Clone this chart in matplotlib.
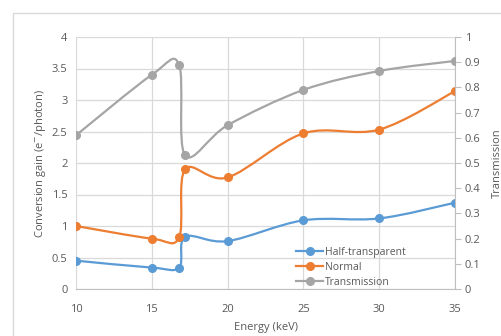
import matplotlib
matplotlib.use("Agg")
import matplotlib.pyplot as plt
from matplotlib.path import Path
from matplotlib.patches import PathPatch, Rectangle
from matplotlib.lines import Line2D
import numpy as np

energy = [10, 15, 16.8, 17.2, 20, 25, 30, 35]
half_transparent = [0.45, 0.34, 0.34, 0.83, 0.76, 1.09, 1.12, 1.37]
normal = [1.0, 0.80, 0.82, 1.90, 1.77, 2.47, 2.53, 3.14]
transmission = [0.61, 0.85, 0.89, 0.53, 0.65, 0.79, 0.865, 0.905]

BLUE = "#5B9BD5"
ORANGE = "#ED7D31"
GRAY = "#A5A5A5"
TXT = "#595959"
GRID = "#D9D9D9"

plt.rcParams['font.family'] = ['Open Sans', 'DejaVu Sans']

fig = plt.figure(figsize=(5.02, 3.36), dpi=100)
fig.patches.append(Rectangle((13/502, -0.1), 1.2, (336-13)/336 + 0.1, transform=fig.transFigure,
                             fill=False, edgecolor="#D9D9D9", linewidth=1.0))
ax = fig.add_axes([76/502, 1-289/336, (455-76)/502, (289-37)/336])
ax2 = ax.twinx()


def smooth_path(x, y, sx, sy):
    P = np.column_stack([np.asarray(x, float) * sx, np.asarray(y, float) * sy])
    n = len(P)
    verts = [P[0]]
    codes = [Path.MOVETO]
    for i in range(n - 1):
        p0 = P[i - 1] if i > 0 else P[i]
        p1 = P[i]
        p2 = P[i + 1]
        p3 = P[i + 2] if i + 2 < n else P[i + 1]
        c1 = p1 + (p2 - p0) / 6.0
        c2 = p2 - (p3 - p1) / 6.0
        verts += [c1, c2, p2]
        codes += [Path.CURVE4] * 3
    V = np.array(verts)
    V[:, 0] /= sx
    V[:, 1] /= sy
    return Path(V, codes)


SX = 15.16
for a, ys, col, sy in [(ax, half_transparent, BLUE, 63), (ax, normal, ORANGE, 63), (ax2, transmission, GRAY, 252)]:
    a.add_patch(PathPatch(smooth_path(energy, ys, SX, sy), facecolor="none", edgecolor=col, lw=1.6,
                          zorder=3, capstyle="round", joinstyle="round"))
    a.plot(energy, ys, linestyle="none", marker="o", markersize=5.5, color=col, zorder=4)

ax.set_xlim(10, 35)
ax.set_ylim(0, 4)
ax2.set_ylim(0, 1)
ax.set_xticks([10, 15, 20, 25, 30, 35])
ax.set_yticks([0, 0.5, 1, 1.5, 2, 2.5, 3, 3.5, 4])
ax.set_yticklabels(["0", "0.5", "1", "1.5", "2", "2.5", "3", "3.5", "4"])
ax2.set_yticks(np.arange(0, 1.01, 0.1))
ax2.set_yticklabels(["0", "0.1", "0.2", "0.3", "0.4", "0.5", "0.6", "0.7", "0.8", "0.9", "1"])

ax.grid(True, color=GRID, lw=0.9)
ax.set_axisbelow(True)
for s in ["top", "left", "right"]:
    ax.spines[s].set_visible(False)
    ax2.spines[s].set_visible(False)
ax2.spines["bottom"].set_visible(False)
ax.spines["bottom"].set_color("#BFBFBF")
ax2.spines["right"].set_visible(True)
ax2.spines["right"].set_color("#BFBFBF")

ax.tick_params(axis="y", length=0, labelsize=8, labelcolor=TXT, pad=6)
ax.tick_params(axis="x", length=0, labelsize=8, labelcolor=TXT, pad=11)
ax2.tick_params(axis="y", length=4, color="#BFBFBF", labelsize=8, labelcolor=TXT, pad=3)

ax.set_xlabel("Energy (keV)", fontsize=8, color=TXT, labelpad=5)
ax.set_ylabel("Conversion gain (e$^{-}$/photon)", fontsize=8, color=TXT, labelpad=3)
ax2.set_ylabel("Transmission", fontsize=8, color=TXT, labelpad=8)

handles = [Line2D([], [], color=c, lw=1.6, marker="o", markersize=5.5) for c in (BLUE, ORANGE, GRAY)]
leg = ax.legend(handles, ["Half-transparent", "Normal", "Transmission"], loc="lower left",
                bbox_to_anchor=(0.57, -0.012), frameon=False, fontsize=7.5, handlelength=2.6,
                handletextpad=0.2, labelspacing=0.4, borderaxespad=0.0)
for t in leg.get_texts():
    t.set_color(TXT)

fig.savefig("out.png", dpi=100)
